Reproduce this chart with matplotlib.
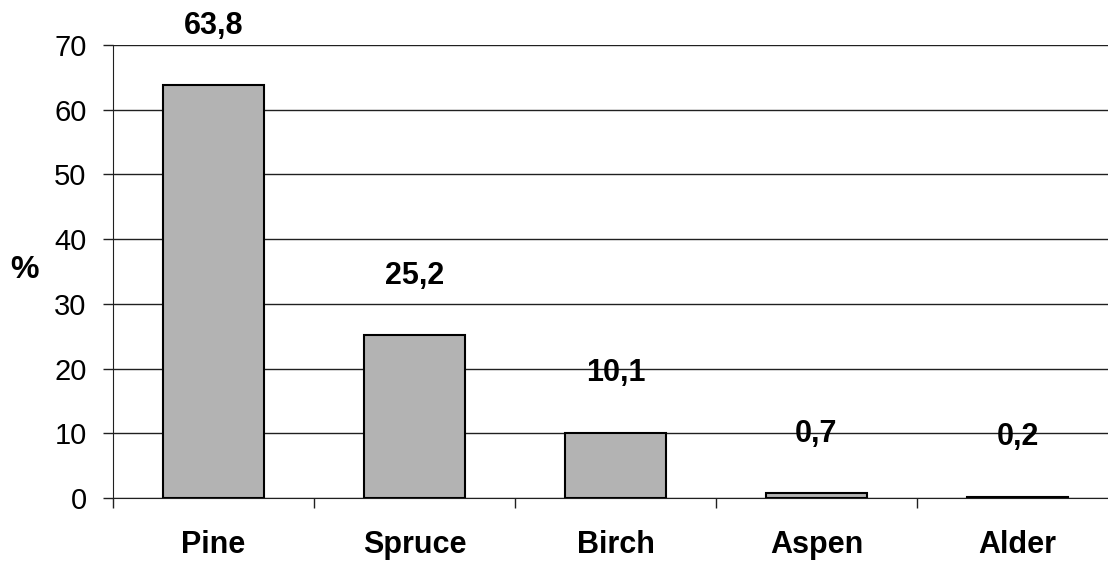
import matplotlib

matplotlib.use("Agg")
import matplotlib.pyplot as plt
import numpy as np

species = ["Pine", "Spruce", "Birch", "Aspen", "Alder"]
shares = [63.8, 25.2, 10.1, 0.7, 0.2]
share_labels = ["63,8", "25,2", "10,1", "0,7", "0,2"]
y_ticks = [0, 10, 20, 30, 40, 50, 60, 70]

plt.rcParams["font.family"] = ["Liberation Sans", "DejaVu Sans"]

fig = plt.figure(figsize=(11.08, 5.63), dpi=100)
ax = fig.add_axes([0.102, 0.1155, 0.907, 0.8045])

x = np.arange(len(species))
ax.bar(x, shares, width=0.5, color="#b3b3b3", edgecolor="black", linewidth=1.5, zorder=3)

for xi, value, label in zip(x, shares, share_labels):
    ax.annotate(label, (xi, value), xytext=(0, 37), textcoords="offset points",
                ha="center", va="baseline", fontsize=22, fontweight="bold")

ax.set_xlim(-0.5, len(species) - 0.5)
ax.set_ylim(0, 70)
ax.set_yticks(y_ticks)
ax.set_yticklabels([str(t) for t in y_ticks], fontsize=21)
ax.yaxis.grid(True, color="#202020", linewidth=1.0, zorder=0)
ax.tick_params(axis="y", direction="out", length=7, width=1, pad=12, colors="#202020", labelcolor="black")

ax.set_xticks(x)
ax.set_xticklabels(species, fontsize=22, fontweight="bold")
ax.set_xticks(np.arange(len(species) + 1) - 0.5, minor=True)
ax.tick_params(axis="x", which="major", length=0, pad=23)
ax.tick_params(axis="x", which="minor", direction="out", length=7, width=1, colors="#202020")

for side in ["top", "right"]:
    ax.spines[side].set_visible(False)
ax.spines["left"].set_color("#202020")
ax.spines["bottom"].set_color("#202020")

ax.set_ylabel("%", rotation=0, fontsize=23, fontweight="bold", labelpad=0, va="center", ha="center")
ax.yaxis.set_label_coords(-0.088, 0.503)

fig.savefig("out.png", dpi=100)
plt.close(fig)
